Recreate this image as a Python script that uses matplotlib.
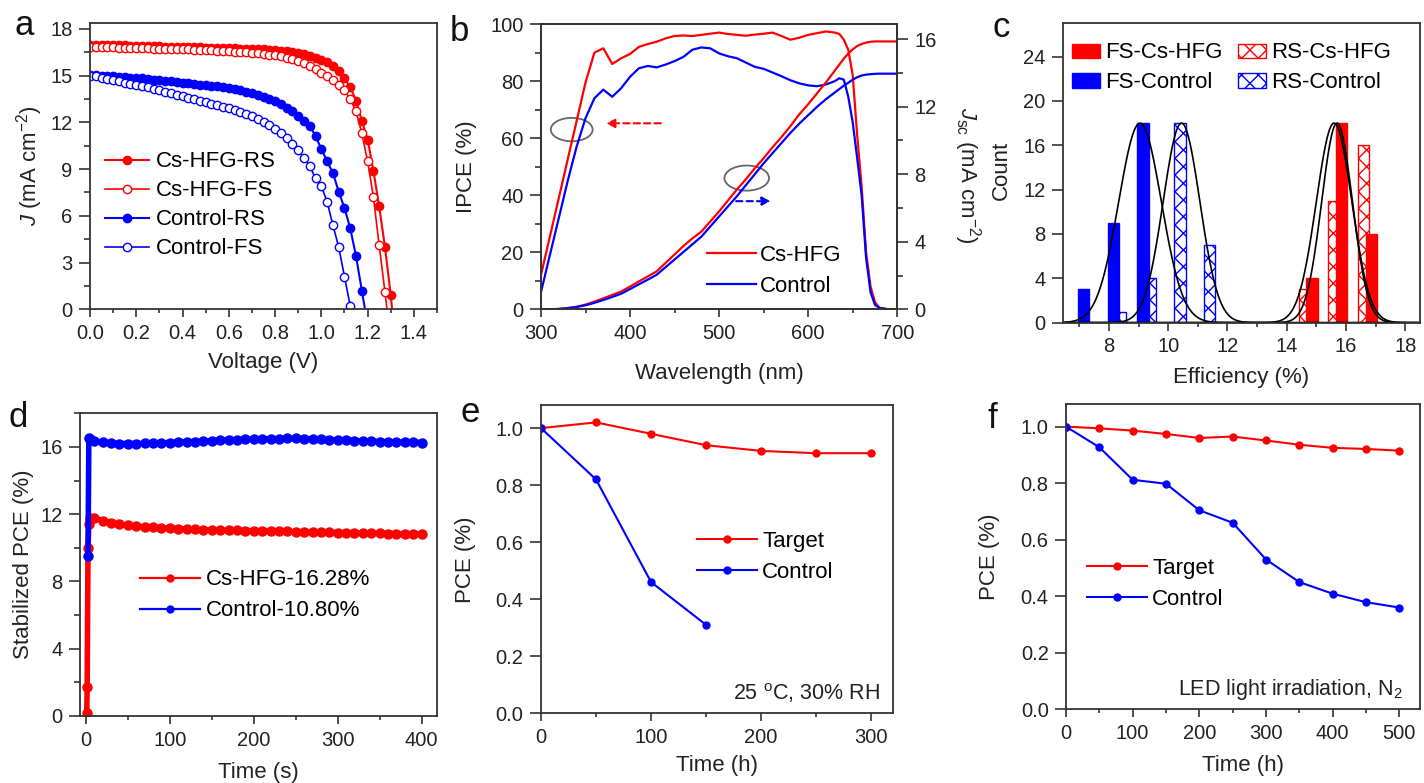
import numpy as np
import matplotlib
matplotlib.use("Agg")
import matplotlib.pyplot as plt
from matplotlib.patches import Ellipse, Patch
from matplotlib.lines import Line2D
from matplotlib.ticker import MultipleLocator

plt.rcParams['font.family'] = ['Liberation Sans', 'DejaVu Sans']
plt.rcParams['mathtext.fontset'] = 'custom'
plt.rcParams['mathtext.rm'] = 'Liberation Sans'
plt.rcParams['mathtext.it'] = 'Liberation Sans:italic'
plt.rcParams['mathtext.bf'] = 'Liberation Sans:bold'
plt.rcParams['hatch.linewidth'] = 1.0

RED = '#ff0000'
BLUE = '#0000ff'
DARK = '#333333'
TICK_FS = 14.5
LAB_FS = 16

# ---- panel a : J-V curves ----
volt = [0.0, 0.025, 0.05, 0.075, 0.1, 0.125, 0.15, 0.175, 0.2, 0.225,
        0.25, 0.275, 0.3, 0.325, 0.35, 0.375, 0.4, 0.425, 0.45, 0.475,
        0.5, 0.525, 0.55, 0.575, 0.6, 0.625, 0.65, 0.675, 0.7, 0.725,
        0.75, 0.775, 0.8, 0.825, 0.85, 0.875, 0.9, 0.925, 0.95, 0.975,
        1.0, 1.025, 1.05, 1.075, 1.1, 1.125, 1.15, 1.175, 1.2, 1.225,
        1.25, 1.275, 1.3, 1.325]
j_cs_rs = [17.0, 16.99, 16.98, 16.97, 16.96, 16.95, 16.94, 16.93, 16.92, 16.91,
           16.9, 16.89, 16.88, 16.87, 16.86, 16.85, 16.84, 16.83, 16.82, 16.81,
           16.8, 16.79, 16.78, 16.77, 16.76, 16.75, 16.74, 16.73, 16.72, 16.7,
           16.68, 16.66, 16.63, 16.6, 16.56, 16.51, 16.45, 16.37, 16.28, 16.16,
           16.02, 15.85, 15.62, 15.3, 14.85, 14.25, 13.4, 12.1, 10.9, 8.9,
           6.6, 4.0, 0.9, -3.0]
j_cs_fs = [16.85, 16.84, 16.83, 16.82, 16.81, 16.8, 16.79, 16.78, 16.77, 16.76,
           16.75, 16.74, 16.73, 16.72, 16.71, 16.7, 16.69, 16.68, 16.67, 16.66,
           16.65, 16.63, 16.61, 16.59, 16.57, 16.55, 16.53, 16.5, 16.47, 16.44,
           16.4, 16.35, 16.3, 16.24, 16.16, 16.06, 15.94, 15.8, 15.62, 15.42,
           15.2, 14.95, 14.7, 14.4, 14.05, 13.5, 12.7, 11.3, 9.5, 7.2,
           4.1, 1.1, -2.0]
j_ct_rs = [15.05, 15.03, 15.0, 14.98, 14.95, 14.92, 14.9, 14.87, 14.85, 14.82,
           14.78, 14.75, 14.72, 14.68, 14.64, 14.6, 14.55, 14.5, 14.47, 14.43,
           14.4, 14.36, 14.32, 14.27, 14.22, 14.16, 14.08, 13.98, 13.88, 13.78,
           13.65, 13.5, 13.35, 13.15, 12.95, 12.7, 12.4, 12.1, 11.8, 11.1,
           10.3, 9.5, 8.75, 7.55, 6.5, 5.2, 3.4, 1.2, -1.0]
j_ct_fs = [15.0, 14.95, 14.88, 14.8, 14.72, 14.63, 14.55, 14.47, 14.4, 14.32,
           14.24, 14.15, 14.07, 13.98, 13.88, 13.78, 13.67, 13.58, 13.48, 13.4,
           13.3, 13.2, 13.1, 13.0, 12.9, 12.78, 12.66, 12.53, 12.4, 12.22,
           12.02, 11.82, 11.6, 11.35, 11.0, 10.6, 10.2, 9.7, 9.2, 8.4,
           7.9, 6.9, 5.4, 4.0, 2.1, 0.2, -2.0]

# ---- panel b : IPCE and integrated Jsc ----
wl = [300, 310, 320, 330, 340, 350, 360, 370, 380, 390,
      400, 410, 420, 430, 440, 450, 460, 470, 480, 490,
      500, 510, 520, 530, 540, 550, 560, 570, 580, 590,
      600, 610, 620, 630, 635, 640, 645, 650, 655, 660,
      665, 670, 675, 680, 690, 700]
ipce_cs = [12, 25.5, 39, 52.5, 66, 79.5, 90, 91.5, 86, 88,
           89.5, 92, 93, 93.8, 95, 95.8, 96, 95.8, 96.2, 96.6,
           97, 96.5, 96.2, 95.9, 96.3, 96.6, 97, 95.8, 94.5, 95.2,
           96.2, 96.8, 97.4, 97, 96.5, 94.5, 91, 82, 61, 43,
           20, 8, 2.5, 0.5, 0, 0]
ipce_ct = [6, 19, 32, 45, 57, 67, 74, 77, 74.5, 77.5,
           81.5, 84.5, 85.3, 84.8, 85.8, 87, 88.5, 91, 91.8, 91.5,
           89.7, 88.7, 88, 86.5, 85, 84.3, 83, 81.7, 80.3, 79.2,
           78.5, 78.2, 78.8, 80, 81, 80.5, 74.5, 65.5, 53, 40,
           18, 6, 1.5, 0.5, 0, 0]
jsc_cs = [0, 0, 0.02, 0.08, 0.15, 0.28, 0.45, 0.65, 0.85, 1.05,
          1.35, 1.65, 1.95, 2.25, 2.75, 3.25, 3.75, 4.2, 4.6, 5.2,
          5.8, 6.45, 7.1, 7.7, 8.35, 8.95, 9.6, 10.2, 10.85, 11.55,
          12.15, 12.8, 13.45, 14.15, 14.5, 14.85, 15.15, 15.4, 15.6, 15.72,
          15.8, 15.85, 15.87, 15.87, 15.87, 15.87]
jsc_ct = [0, 0, 0.02, 0.06, 0.13, 0.24, 0.38, 0.55, 0.73, 0.92,
          1.2, 1.48, 1.76, 2.05, 2.5, 2.95, 3.4, 3.85, 4.3, 4.9,
          5.5, 6.1, 6.7, 7.35, 8.0, 8.65, 9.25, 9.85, 10.45, 11.0,
          11.5, 12.0, 12.45, 12.85, 13.05, 13.25, 13.42, 13.6, 13.75, 13.85,
          13.9, 13.93, 13.95, 13.96, 13.96, 13.96]

# ---- panel c : efficiency histograms ----
fs_cs_eff = [14.85, 15.85, 16.85]
fs_cs_cnt = [4, 18, 8]
rs_cs_eff = [14.6, 15.6, 16.6]
rs_cs_cnt = [3, 11, 16]
fs_ct_eff = [7.15, 8.15, 9.15]
fs_ct_cnt = [3, 9, 18]
rs_ct_eff = [8.4, 9.4, 10.4, 11.4]
rs_ct_cnt = [1, 4, 18, 7]
# gaussian fits (centre, sigma, height)
fit_centre = [9.05, 10.45, 15.6, 15.7]
fit_sigma = [0.72, 0.62, 0.6, 0.52]
fit_height = [18, 18, 18, 18]

# ---- panel d : stabilized PCE ----
t_red = [1, 1.5, 2.5, 3.5, 5, 10, 20, 30, 40, 50, 60, 70, 80, 90, 100,
         110, 120, 130, 140, 150, 160, 170, 180, 190, 200, 210, 220, 230, 240, 250,
         260, 270, 280, 290, 300, 310, 320, 330, 340, 350, 360, 370, 380, 390, 400]
pce_red = [0.15, 1.75, 10.0, 11.4, 11.75, 11.78, 11.62, 11.48, 11.4, 11.33, 11.28, 11.24, 11.21, 11.18, 11.16,
           11.14, 11.12, 11.1, 11.08, 11.06, 11.05, 11.04, 11.03, 11.02, 11.01, 11.0, 10.99, 10.98, 10.97, 10.96,
           10.95, 10.94, 10.93, 10.92, 10.91, 10.9, 10.89, 10.88, 10.87, 10.86, 10.85, 10.84, 10.83, 10.82, 10.81]
t_blue = [2.5, 3.5, 5, 10, 20, 30, 40, 50, 60, 70, 80, 90, 100,
          110, 120, 130, 140, 150, 160, 170, 180, 190, 200, 210, 220, 230, 240, 250,
          260, 270, 280, 290, 300, 310, 320, 330, 340, 350, 360, 370, 380, 390, 400]
pce_blue = [9.5, 16.5, 16.45, 16.35, 16.28, 16.22, 16.2, 16.2, 16.2, 16.21, 16.22, 16.24, 16.26,
            16.28, 16.3, 16.32, 16.35, 16.37, 16.4, 16.42, 16.44, 16.45, 16.46, 16.47, 16.48, 16.49, 16.5, 16.5,
            16.49, 16.48, 16.46, 16.44, 16.42, 16.4, 16.38, 16.36, 16.34, 16.32, 16.3, 16.29, 16.28, 16.27, 16.26]

# ---- panel e : humidity stability ----
t_e = [0, 50, 100, 150, 200, 250, 300]
target_e = [1.0, 1.02, 0.98, 0.94, 0.92, 0.912, 0.912]
t_e_ctrl = [0, 50, 100, 150]
control_e = [1.0, 0.82, 0.46, 0.31]

# ---- panel f : light stability ----
t_f = [0, 50, 100, 150, 200, 250, 300, 350, 400, 450, 500]
target_f = [1.0, 0.994, 0.986, 0.974, 0.96, 0.965, 0.951, 0.936, 0.925, 0.921, 0.915]
control_f = [1.0, 0.927, 0.812, 0.798, 0.704, 0.66, 0.53, 0.45, 0.409, 0.379, 0.36]


def style(ax):
    for s in ax.spines.values():
        s.set_linewidth(1.3)
        s.set_color(DARK)
    ax.tick_params(which='both', direction='out', top=False, right=False,
                   colors=DARK, labelcolor='#222222', labelsize=TICK_FS, width=1.2)
    ax.tick_params(axis='y', which='major', length=8, pad=4.5)
    ax.tick_params(axis='y', which='minor', length=4.5)
    ax.tick_params(axis='x', which='major', length=5.5, pad=5)
    ax.tick_params(axis='x', which='minor', length=3)


fig = plt.figure(figsize=(14.24, 7.83), dpi=100)

# a
ax = fig.add_axes([0.0632, 0.605, 0.2437, 0.366])
ax.plot(volt[:len(j_cs_rs)], j_cs_rs, '-o', color=RED, ms=6, lw=1.5, label='Cs-HFG-RS')
ax.plot(volt[:len(j_cs_fs)], j_cs_fs, '-o', color=RED, mfc='white', mew=1, ms=6, lw=1.2, label='Cs-HFG-FS')
ax.plot(volt[:len(j_ct_rs)], j_ct_rs, '-o', color=BLUE, ms=6, lw=1.5, label='Control-RS')
ax.plot(volt[:len(j_ct_fs)], j_ct_fs, '-o', color=BLUE, mfc='white', mew=1, ms=6, lw=1.2, label='Control-FS')
ax.set_xlim(0, 1.5)
ax.set_ylim(0, 18.4)
ax.xaxis.set_minor_locator(MultipleLocator(0.1))
ax.yaxis.set_major_locator(MultipleLocator(3))
ax.yaxis.set_minor_locator(MultipleLocator(1.5))
ax.set_xticks([0, 0.2, 0.4, 0.6, 0.8, 1.0, 1.2, 1.4])
ax.set_xticklabels(['0.0', '0.2', '0.4', '0.6', '0.8', '1.0', '1.2', '1.4'])
style(ax)
ax.set_xlabel('Voltage (V)', fontsize=LAB_FS, color='#222222', va='top')
ax.set_ylabel('$J$ (mA cm$^{-2}$)', fontsize=LAB_FS, color='#222222')
ax.xaxis.set_label_coords(0.5, -0.148)
ax.yaxis.set_label_coords(-0.13, 0.5)
ax.legend(loc='upper left', bbox_to_anchor=(0.043, 0.551), frameon=False, fontsize=LAB_FS,
          handlelength=2.0, handletextpad=0.3, labelspacing=0.36, borderpad=0, borderaxespad=0)

# b
ax = fig.add_axes([0.3799, 0.605, 0.2502, 0.3643])
ax2 = ax.twinx()
ax.plot(wl, ipce_cs, color=RED, lw=1.6, label='Cs-HFG')
ax.plot(wl, ipce_ct, color=BLUE, lw=1.6, label='Control')
ax2.plot(wl, jsc_cs, color=RED, lw=1.6)
ax2.plot(wl, jsc_ct, color=BLUE, lw=1.6)
ax.set_xlim(300, 700)
ax.set_ylim(0, 100)
ax2.set_ylim(0, 16.9)
ax.xaxis.set_major_locator(MultipleLocator(100))
ax.xaxis.set_minor_locator(MultipleLocator(50))
ax.yaxis.set_major_locator(MultipleLocator(20))
ax.yaxis.set_minor_locator(MultipleLocator(10))
ax2.yaxis.set_major_locator(MultipleLocator(4))
ax2.yaxis.set_minor_locator(MultipleLocator(2))
style(ax)
style(ax2)
ax2.tick_params(which='both', right=True, left=False, labelright=True, labelleft=False)
ax.set_xlabel('Wavelength (nm)', fontsize=LAB_FS, color='#222222', va='top')
ax.set_ylabel('IPCE (%)', fontsize=LAB_FS, color='#222222')
ax2.set_ylabel('$J_{\\mathrm{sc}}$ (mA cm$^{-2}$)', fontsize=LAB_FS, color='#222222', rotation=270, va='bottom')
ax.xaxis.set_label_coords(0.5, -0.189)
ax.yaxis.set_label_coords(-0.18, 0.5)
ax2.yaxis.set_label_coords(1.153, 0.47)
ax.add_patch(Ellipse((334.5, 63), 47, 8.2, fill=False, ec='#666666', lw=1.3))
ax.add_patch(Ellipse((531, 46), 50, 8.8, fill=False, ec='#666666', lw=1.3))
ax.annotate('', xy=(370, 65.2), xytext=(437.6, 65.2),
            arrowprops=dict(arrowstyle='-|>,head_width=0.25,head_length=0.5', color=RED, lw=1.5, ls=(0, (3, 2))))
ax.annotate('', xy=(561, 37.9), xytext=(516, 37.9),
            arrowprops=dict(arrowstyle='-|>,head_width=0.25,head_length=0.5', color=BLUE, lw=1.5, ls=(0, (3, 2))))
ax2.legend(handles=[Line2D([], [], color=RED, lw=1.6), Line2D([], [], color=BLUE, lw=1.6)],
           labels=['Cs-HFG', 'Control'], loc='upper left', bbox_to_anchor=(0.466, 0.227),
           frameon=False, fontsize=LAB_FS, handlelength=2.2, handletextpad=0.2,
           labelspacing=0.45, borderpad=0, borderaxespad=0)

# c
ax = fig.add_axes([0.7465, 0.5879, 0.2507, 0.3823])
bw = 0.38
ax.bar(rs_ct_eff, rs_ct_cnt, width=bw, color='white', edgecolor=BLUE, hatch='xx', lw=1)
ax.bar(fs_ct_eff, fs_ct_cnt, width=bw, color=BLUE, edgecolor=BLUE, lw=1)
ax.bar(rs_cs_eff, rs_cs_cnt, width=bw, color='white', edgecolor=RED, hatch='xx', lw=1)
ax.bar(fs_cs_eff, fs_cs_cnt, width=bw, color=RED, edgecolor=RED, lw=1)
xg = np.linspace(6.45, 18.5, 400)
for c, s, h in zip(fit_centre, fit_sigma, fit_height):
    ax.plot(xg, h * np.exp(-(xg - c) ** 2 / (2 * s ** 2)), color='black', lw=1.2)
ax.set_xlim(6.45, 18.5)
ax.set_ylim(0, 27)
ax.xaxis.set_major_locator(MultipleLocator(2))
ax.xaxis.set_minor_locator(MultipleLocator(1))
ax.yaxis.set_major_locator(MultipleLocator(4))
style(ax)
ax.set_xlabel('Efficiency (%)', fontsize=LAB_FS, color='#222222', va='top')
ax.set_ylabel('Count', fontsize=LAB_FS, color='#222222')
ax.xaxis.set_label_coords(0.5, -0.147)
ax.yaxis.set_label_coords(-0.143, 0.51)
handles = [Patch(facecolor=RED, edgecolor=RED), Patch(facecolor=BLUE, edgecolor=BLUE),
           Patch(facecolor='white', edgecolor=RED, hatch='xx'), Patch(facecolor='white', edgecolor=BLUE, hatch='xx')]
labels = ['FS-Cs-HFG', 'FS-Control', 'RS-Cs-HFG', 'RS-Control']
ax.legend(handles, labels, ncol=2, loc='upper left', bbox_to_anchor=(0.025, 0.936), frameon=False,
          fontsize=LAB_FS, handlelength=1.25, handleheight=0.6, handletextpad=0.25,
          columnspacing=0.7, labelspacing=0.4, borderpad=0, borderaxespad=0)

# d  (dense measurement -> drawn as a thick marker band)
ax = fig.add_axes([0.0562, 0.0856, 0.2505, 0.3866])
ax.plot(t_red, pce_red, '-o', color=RED, ms=6.5, lw=4)
ax.plot(t_blue, pce_blue, '-o', color=BLUE, ms=6.5, lw=4)
ax.set_xlim(-7, 418)
ax.set_ylim(0, 18)
ax.xaxis.set_major_locator(MultipleLocator(100))
ax.xaxis.set_minor_locator(MultipleLocator(50))
ax.yaxis.set_major_locator(MultipleLocator(4))
ax.yaxis.set_minor_locator(MultipleLocator(2))
style(ax)
ax.set_xlabel('Time (s)', fontsize=LAB_FS, color='#222222', va='top')
ax.set_ylabel('Stabilized PCE (%)', fontsize=LAB_FS, color='#222222')
ax.xaxis.set_label_coords(0.5, -0.151)
ax.yaxis.set_label_coords(-0.13, 0.5)
d_handles = [Line2D([], [], color=RED, lw=1.6, marker='o', ms=5),
             Line2D([], [], color=BLUE, lw=1.6, marker='o', ms=5)]
ax.legend(d_handles, ['Cs-HFG-16.28%', 'Control-10.80%'], loc='upper left', bbox_to_anchor=(0.168, 0.484),
          frameon=False, fontsize=LAB_FS, handlelength=2.7, handletextpad=0.25, labelspacing=0.45,
          borderpad=0, borderaxespad=0)

# e
ax = fig.add_axes([0.3799, 0.089, 0.2474, 0.3934])
ax.plot(t_e, target_e, '-o', color=RED, ms=5, lw=1.5, label='Target')
ax.plot(t_e_ctrl, control_e, '-o', color=BLUE, ms=5, lw=1.5, label='Control')
ax.set_xlim(0, 320)
ax.set_ylim(0, 1.08)
ax.xaxis.set_major_locator(MultipleLocator(100))
ax.xaxis.set_minor_locator(MultipleLocator(50))
ax.yaxis.set_major_locator(MultipleLocator(0.2))
style(ax)
ax.set_xlabel('Time (h)', fontsize=LAB_FS, color='#222222', va='top')
ax.set_ylabel('PCE (%)', fontsize=LAB_FS, color='#222222')
ax.xaxis.set_label_coords(0.5, -0.135)
ax.yaxis.set_label_coords(-0.185, 0.5)
ax.legend(loc='upper left', bbox_to_anchor=(0.442, 0.591), frameon=False, fontsize=LAB_FS,
          handlelength=2.7, handletextpad=0.25, labelspacing=0.45, borderpad=0, borderaxespad=0)
ax.text(0.962, 0.043, '25 $^{\\mathrm{o}}$C, 30% RH', transform=ax.transAxes, ha='right', va='baseline',
        fontsize=LAB_FS - 0.5, color='#222222')

# f
ax = fig.add_axes([0.7486, 0.0941, 0.2486, 0.3899])
ax.plot(t_f, target_f, '-o', color=RED, ms=5, lw=1.5, label='Target')
ax.plot(t_f, control_f, '-o', color=BLUE, ms=5, lw=1.5, label='Control')
ax.set_xlim(0, 531)
ax.set_ylim(0, 1.08)
ax.xaxis.set_major_locator(MultipleLocator(100))
ax.xaxis.set_minor_locator(MultipleLocator(50))
ax.yaxis.set_major_locator(MultipleLocator(0.2))
style(ax)
ax.set_xlabel('Time (h)', fontsize=LAB_FS, color='#222222', va='top')
ax.set_ylabel('PCE (%)', fontsize=LAB_FS, color='#222222')
ax.xaxis.set_label_coords(0.5, -0.15)
ax.yaxis.set_label_coords(-0.186, 0.5)
ax.legend(loc='upper left', bbox_to_anchor=(0.058, 0.497), frameon=False, fontsize=LAB_FS,
          handlelength=2.7, handletextpad=0.25, labelspacing=0.45, borderpad=0, borderaxespad=0)
ax.text(0.953, 0.047, 'LED light irradiation, N$_2$', transform=ax.transAxes, ha='right', va='baseline',
        fontsize=LAB_FS - 0.5, color='#222222')

# panel letters
letters = ['a', 'b', 'c', 'd', 'e', 'f']
letter_pos = [(15, 35), (450, 41), (993, 37), (8, 427), (460, 422), (987, 428)]
for lt, (px, py) in zip(letters, letter_pos):
    fig.text(px / 1424, 1 - py / 783, lt, fontsize=25, color='#111111', va='baseline')

fig.savefig('out.png', dpi=100)
